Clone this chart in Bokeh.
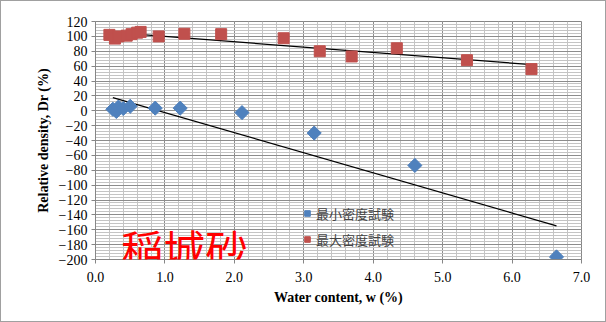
from bokeh.plotting import figure
from bokeh.models import (FixedTicker, Range1d, Label, Legend, LegendItem,
                          NumeralTickFormatter)
from bokeh.embed import file_html
from bokeh.resources import INLINE
import numpy as np

# 最小密度試験 (minimum density test)
min_w = [0.25, 0.30, 0.33, 0.40, 0.50, 0.86, 1.22, 2.11, 3.15, 4.60, 6.64]
min_dr = [2, -1, 5, 3, 6, 3.5, 3.5, -2.5, -30, -73.5, -196.5]

# 最大密度試験 (maximum density test)
max_w = [0.20, 0.28, 0.33, 0.45, 0.52, 0.60, 0.65, 0.91, 1.28, 1.81, 2.71,
         3.23, 3.69, 4.34, 5.35, 6.28]
max_dr = [102, 97, 100, 101, 103, 105, 106, 100, 103.5, 103, 97.5,
          80, 73, 84, 68, 56]

x_ticks = [0, 1, 2, 3, 4, 5, 6, 7]
y_ticks = list(range(-200, 121, 20))

serif = "Liberation Serif"
jp = "Noto Sans CJK JP"

p = figure(width=606, height=322, output_backend="svg", toolbar_location=None,
           x_range=Range1d(0, 7), y_range=Range1d(-200, 120),
           min_border_left=94, min_border_right=26, min_border_top=20,
           min_border_bottom=64)
p.styles = {"border": "1px solid #a0a0a0", "box-sizing": "border-box"}
p.outline_line_color = "#868686"
p.background_fill_color = "white"

p.xaxis.ticker = FixedTicker(ticks=x_ticks, minor_ticks=list(np.round(np.arange(0, 7.01, 0.2), 2)))
p.yaxis.ticker = FixedTicker(ticks=y_ticks, minor_ticks=list(range(-200, 121, 4)))
p.xaxis.formatter = NumeralTickFormatter(format="0.0")

for ax in (p.xaxis, p.yaxis):
    ax.axis_line_color = "#868686"
    ax.major_tick_line_color = "#868686"
    ax.major_tick_out = 4
    ax.major_tick_in = 0
    ax.minor_tick_line_color = None
    ax.major_label_text_font = serif
    ax.major_label_text_font_size = "14px"
    ax.major_label_text_color = "black"
    ax.axis_label_text_font = serif
    ax.axis_label_text_font_size = "14px"
    ax.axis_label_text_font_style = "bold"
    ax.axis_label_text_color = "black"

p.xaxis.axis_label = "Water content, w (%)"
p.yaxis.axis_label = "Relative density, Dr (%)"
p.xaxis.major_label_standoff = 8
p.yaxis.major_label_standoff = 4

p.xgrid.grid_line_color = "#8c8c8c"
p.ygrid.grid_line_color = "#8c8c8c"
p.xgrid.minor_grid_line_color = "#c4c4c4"
p.ygrid.minor_grid_line_color = "#c4c4c4"

# trend lines (linear fit)
a1, b1 = np.polyfit(max_w, max_dr, 1)
xs1 = [min(max_w), max(max_w)]
p.line(xs1, [a1 * x + b1 for x in xs1], line_color="black", line_width=1.2)
a2, b2 = np.polyfit(min_w, min_dr, 1)
xs2 = [min(min_w), max(min_w)]
p.line(xs2, [a2 * x + b2 for x in xs2], line_color="black", line_width=1.2)

r_min = p.scatter(min_w, min_dr, marker="square", angle=np.pi / 4, size=10,
                  fill_color="#4F81BD", line_color="#4F81BD")
r_max = p.scatter(max_w, max_dr, marker="square", size=11,
                  fill_color="#C0504D", line_color="#C0504D")

legend = Legend(items=[LegendItem(label="最小密度試験", renderers=[r_min]),
                       LegendItem(label="最大密度試験", renderers=[r_max])],
                location=(205, 10), background_fill_alpha=0,
                border_line_color=None, label_text_font=jp,
                label_text_font_size="13px", glyph_width=14,
                label_standoff=2, spacing=6, padding=2, margin=0)
p.add_layout(legend, "center")

p.add_layout(Label(x=0.37, y=-184, text="稲城砂", text_color="#ff0000",
                   text_font=jp, text_font_size="42px", text_font_style="normal",
                   text_baseline="alphabetic"))

open("out.html", "w").write(file_html(p, INLINE))
